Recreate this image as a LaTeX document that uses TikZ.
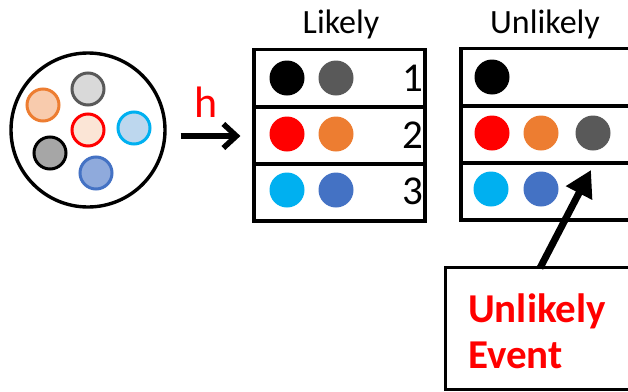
\documentclass[tikz,border=0pt]{standalone}
\usepackage{fontspec}
\setmainfont{Carlito}
\usetikzlibrary{arrows.meta}

\definecolor{cGray}{HTML}{595959}
\definecolor{cOrange}{HTML}{ED7D31}
\definecolor{cCyan}{HTML}{00B0F0}
\definecolor{cBlue}{HTML}{4472C4}
\definecolor{fGray}{HTML}{D9D9D9}
\definecolor{fOrange}{HTML}{F8CBAD}
\definecolor{fRed}{HTML}{FBE5D6}
\definecolor{fCyan}{HTML}{BDD7EE}
\definecolor{fDark}{HTML}{A6A6A6}
\definecolor{fBlue}{HTML}{8FAADC}

\begin{document}
\begin{tikzpicture}[x=1pt,y=-1pt,
  rowbox/.style={draw, line width=3.2pt, inner sep=0pt, minimum height=57pt},
  dot/.style={circle, inner sep=0pt, minimum size=35pt},
  marble/.style={circle, draw, line width=3pt, inner sep=0pt, minimum size=32pt},
  title/.style={font=\fontsize{34}{36}\selectfont, inner sep=0pt, anchor=base},
  num/.style={font=\fontsize{41}{44}\selectfont, inner sep=0pt, anchor=base east},
]
\useasboundingbox (0,0) rectangle (628,391);
\clip (0,0) rectangle (628,391);

% pool of marbles
\node[circle, draw, line width=3.4pt, minimum size=154pt, inner sep=0pt] (pool) at (88,130) {};
\node[marble, draw=cGray, fill=fGray] (m1) at (88,89) {};
\node[marble, draw=cOrange, fill=fOrange] (m2) at (43,105) {};
\node[marble, draw=red, fill=fRed] (m3) at (88,130) {};
\node[marble, draw=cCyan, fill=fCyan] (m4) at (134,128) {};
\node[marble, draw=black, fill=fDark] (m5) at (50,153) {};
\node[marble, draw=cBlue, fill=fBlue] (m6) at (96,173) {};

% likely table
\node[title] (tl) at (341,33) {Likely};
\node[rowbox, minimum width=171pt] (L1) at (339.5,78) {};
\node[rowbox, minimum width=171pt] (L2) at (339.5,135.5) {};
\node[rowbox, minimum width=171pt] (L3) at (339.5,192.5) {};
\node[dot, fill=black] (l1a) at (287,78) {};
\node[dot, fill=cGray] (l1b) at (336,78) {};
\node[dot, fill=red] (l2a) at (287,134) {};
\node[dot, fill=cOrange] (l2b) at (336,134) {};
\node[dot, fill=cCyan] (l3a) at (287,190) {};
\node[dot, fill=cBlue] (l3b) at (336,190) {};
\node[num] (n1) at (423,91) {1};
\node[num] (n2) at (423,148) {2};
\node[num] (n3) at (423,204) {3};

% unlikely table
\node[title] (tu) at (545,33) {Unlikely};
\node[rowbox, minimum width=220pt] (U1) at (571,77) {};
\node[rowbox, minimum width=220pt] (U2) at (571,134.5) {};
\node[rowbox, minimum width=220pt] (U3) at (571,191.5) {};
\node[dot, fill=black] (u1a) at (492,77) {};
\node[dot, fill=red] (u2a) at (492,133) {};
\node[dot, fill=cOrange] (u2b) at (541,133) {};
\node[dot, fill=cGray] (u2c) at (593,133) {};
\node[dot, fill=cCyan] (u3a) at (491,189) {};
\node[dot, fill=cBlue] (u3b) at (541,189) {};

% hash arrow and its label
\draw[line width=5.5pt, -{Straight Barb[length=13pt,width=24pt,line width=5.5pt]}, shorten <=14pt, shorten >=12pt]
  (pool.east |- 0,136) coordinate (hs) -- (L2.west |- 0,136) coordinate (he);
\node[anchor=base, text=red, font=\fontsize{44}{46}\selectfont, inner sep=0pt] (h) at (206,117) {h};

% callout box and pointer
\node[draw, line width=3pt, minimum width=230pt, minimum height=122pt, inner sep=0pt] (ev) at (560,328) {};
\node[anchor=base west, inner sep=0pt, text=red, font=\bfseries\fontsize{41}{44}\selectfont] (evt1) at (468,322) {Unlikely};
\node[anchor=base west, inner sep=0pt, text=red, font=\bfseries\fontsize{41}{44}\selectfont] (evt2) at (468,368) {Event};
\coordinate (ps) at (540,268);
\coordinate (pt) at (591,170);
\draw[line width=7pt, -{Triangle[length=26pt,width=28pt]}] (ps) -- (pt);
\end{tikzpicture}
\end{document}
